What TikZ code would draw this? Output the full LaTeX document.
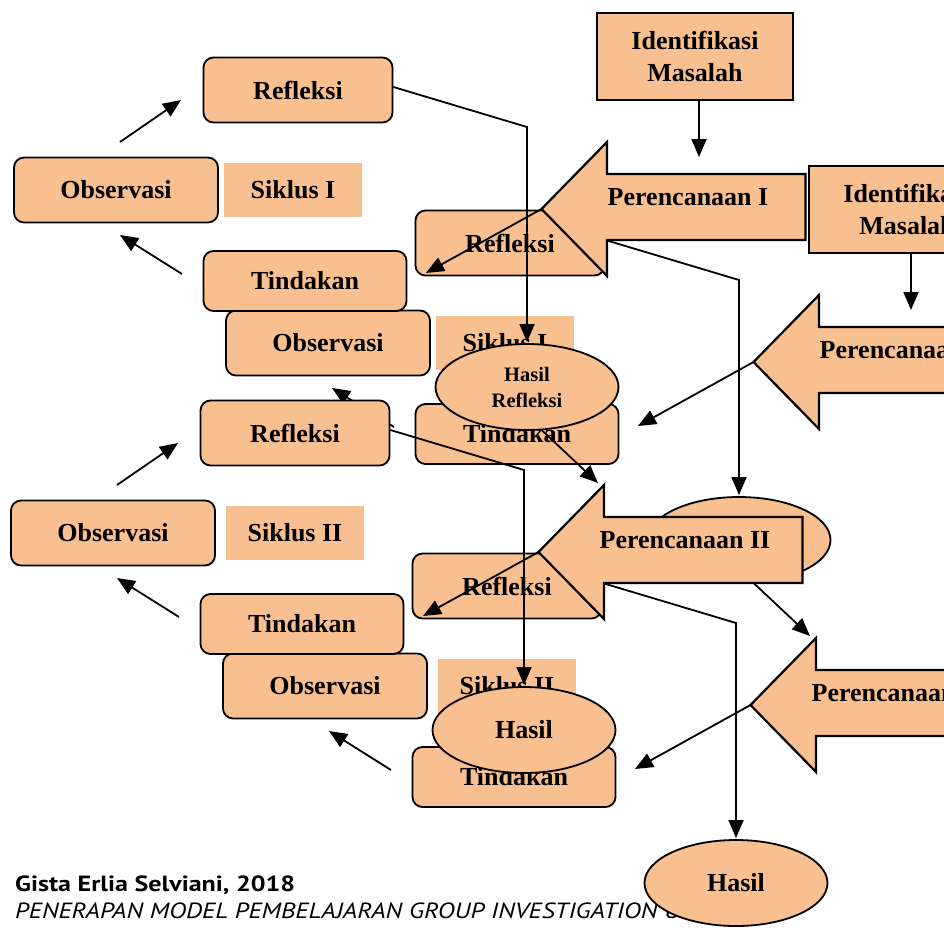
\documentclass[tikz,border=0pt]{standalone}
\usepackage{fontspec}
\usepackage{graphicx}
\setmainfont{Liberation Serif}
\newfontfamily\footfont{PT Sans}
\usetikzlibrary{shapes.geometric,arrows.meta,calc}
\definecolor{peach}{RGB}{248,192,144}
\tikzset{
  base/.style={font=\fontsize{26}{32}\selectfont\bfseries, text=black},
  rbox/.style={base, draw, fill=peach, line width=1.8pt, rounded corners=10pt, inner sep=0pt},
  lbl/.style={base, fill=peach, inner sep=0pt},
  sbox/.style={base, draw, fill=peach, line width=2.6pt, inner sep=0pt, align=center},
  ebox/.style={base, ellipse, draw, fill=peach, line width=1.8pt, inner sep=0pt, align=center},
  pshape/.style={draw, fill=peach, line width=2.2pt, line join=miter},
  conn/.style={line width=1.8pt, -{Triangle[length=18pt,width=15pt]}},
}
% #1 prefix, #2 siklus text, #3 siklus x, #4 perencanaan text, #5 ellipse text, #6 ellipse font
\newcommand\cyclecore[6]{%
  \node[rbox, minimum width=189pt, minimum height=65pt] (#1ref) at (298,90) {Refleksi};
  \node[rbox, minimum width=204pt, minimum height=65pt] (#1obs) at (116,190) {Observasi};
  \node[lbl, minimum width=138pt, minimum height=54pt] (#1sik) at (#3,190) {#2};
  \node[rbox, minimum width=203pt, minimum height=60pt] (#1tin) at (305,281) {Tindakan};
  \coordinate (#1aas) at (120,142); \coordinate (#1aae) at (181,100);
  \coordinate (#1abs) at (182,274); \coordinate (#1abe) at (120,235);
  \draw[conn] (#1aas) -- (#1aae);
  \draw[conn] (#1abs) -- (#1abe);
  \coordinate (#1tip) at (541.5,209);
  \draw[pshape] (805.5,174) -- (607,174) -- (607,142) -- (#1tip) -- (607,276) -- (607,240) -- (805.5,240) -- cycle;
  \node[base] (#1pt) at (688,197) {#4};
  \coordinate (#1tipend) at (426,273);
  \draw[conn] (#1tip) -- (#1tipend);
  \coordinate (#1bend) at (527,127);
  \coordinate (#1vend) at (527,342);
  \draw[conn] ([yshift=3pt]#1ref.east) -- (#1bend) -- (#1vend);
  \node[ebox, minimum width=183pt, minimum height=86pt, font=#6] (#1ell) at (527,387) {#5};
}
\newcommand\identpart[1]{%
  \node[sbox, minimum width=196pt, minimum height=87pt] (#1id) at (695,56.5) {Identifikasi\\Masalah};
  \coordinate (#1idend) at (699,157);
  \draw[conn] ([xshift=4pt]#1id.south) -- (#1idend);
}
\newcommand\nextpart[1]{%
  \coordinate (#1nend) at (598,483);
  \draw[conn] (#1ell.-71) -- (#1nend);
}
\begin{document}
\begin{tikzpicture}[x=1pt,y=-1pt]
\useasboundingbox (0,0) rectangle (944,927);
\clip (0,0) rectangle (944,927);
% footer
\node[anchor=base west, inner sep=0pt] (f1) at (15,891) {\resizebox{280pt}{\height}{\footfont\fontsize{22}{26}\selectfont\bfseries Gista Erlia Selviani, 2018}};
\node[anchor=base west, inner sep=0pt] (f2) at (15,918) {\resizebox{665pt}{\height}{\footfont\fontsize{22}{26}\selectfont\itshape PENERAPAN MODEL PEMBELAJARAN GROUP INVESTIGATION U}};
% layer D
\begin{scope}[shift={(209,496)}]
  \cyclecore{D}{Siklus II}{298}{Perencanaan II}{Hasil}{\fontsize{26}{32}\selectfont\bfseries}
\end{scope}
% layer B
\begin{scope}[shift={(212,153)}]
  \cyclecore{B}{Siklus I}{293}{Perencanaan I}{}{\fontsize{20.5}{26}\selectfont\bfseries}
  \identpart{B}
  \nextpart{B}
\end{scope}
% layer C
\begin{scope}[shift={(-3,343)}]
  \cyclecore{C}{Siklus II}{298}{Perencanaan II}{Hasil}{\fontsize{26}{32}\selectfont\bfseries}
\end{scope}
% layer A
\begin{scope}
  \cyclecore{A}{Siklus I}{293}{Perencanaan I}{Hasil\\Refleksi}{\fontsize{20.5}{26}\selectfont\bfseries}
  \identpart{A}
  \nextpart{A}
\end{scope}
\end{tikzpicture}
\end{document}
